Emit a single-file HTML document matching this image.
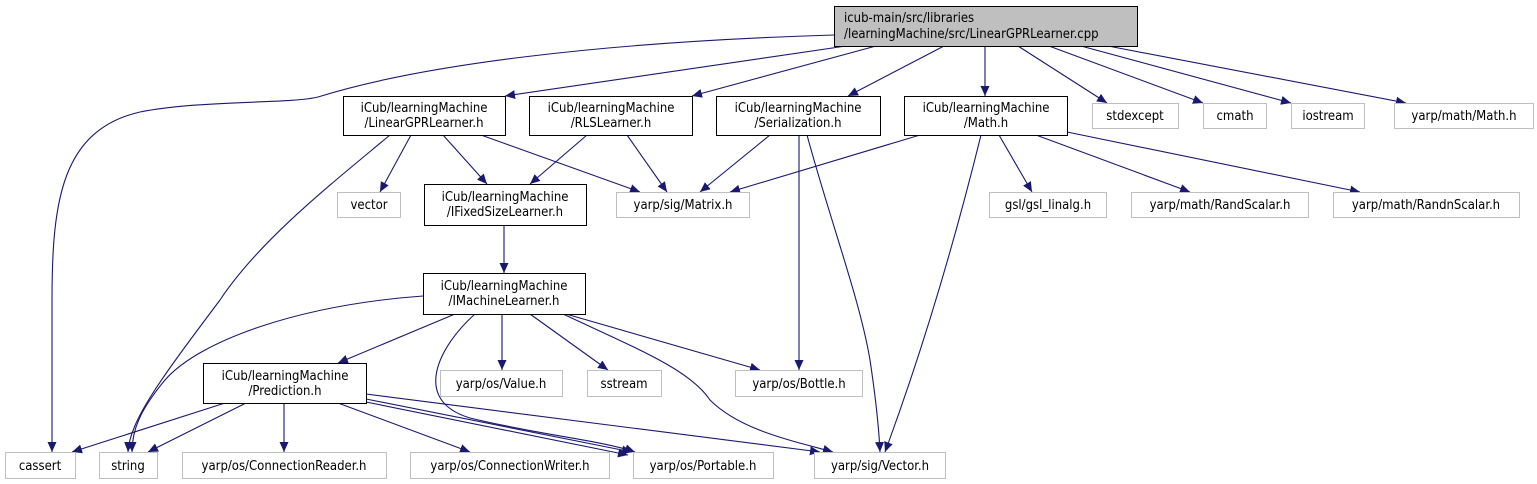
<!DOCTYPE html>
<html><head><meta charset="utf-8"><style>
html,body{margin:0;padding:0;background:#fff;width:1537px;height:484px;overflow:hidden}
svg text{font-family:"DejaVu Sans Condensed","DejaVu Sans","Liberation Sans",sans-serif;font-size:13px;fill:#000}
</style></head><body>
<svg width="1537" height="484" viewBox="0 0 1537 484" xmlns="http://www.w3.org/2000/svg">
<defs>
<marker id="a" markerUnits="userSpaceOnUse" markerWidth="11" markerHeight="10" refX="10" refY="4.5" orient="auto">
<path d="M0,0 L10,4.5 L0,9 Z" fill="#191970"/>
</marker>
</defs>
<g fill="none" stroke="#191970" stroke-width="1.1" marker-end="url(#a)">
<path d="M834,35 C600,42 420,65 318,97 C290,104 200,100 140,112 C62,130 52,200 52,300 L52,452"/>
<path d="M846,46 L505,96"/>
<path d="M876,46 L692,96"/>
<path d="M944,46 L848,96"/>
<path d="M985,46 L985,96"/>
<path d="M1018,46 L1107,103"/>
<path d="M1049,46 L1203,103"/>
<path d="M1081,46 L1291,103"/>
<path d="M1108,46 L1406,103"/>
<path d="M411,135 L380,192"/>
<path d="M443,135 L487,184"/>
<path d="M481,135 L640,192"/>
<path d="M390,135 C330,185 260,240 220,300 C160,380 130,420 128,452"/>
<path d="M587,135 L530,184"/>
<path d="M627,135 L667,192"/>
<path d="M770,135 L700,192"/>
<path d="M799,135 L799,370"/>
<path d="M807,135 C830,220 860,300 870,360 C876,400 879,430 880,452"/>
<path d="M920,135 L730,192"/>
<path d="M981,135 C960,220 930,330 885,452"/>
<path d="M999,135 L1032,192"/>
<path d="M1036,135 L1190,192"/>
<path d="M1067,132 L1360,192"/>
<path d="M504,225 L504,273"/>
<path d="M455,314 L338,363"/>
<path d="M423,296 C300,305 200,340 165,380 C140,410 132,430 132,452"/>
<path d="M502,314 L502,370"/>
<path d="M530,314 L608,370"/>
<path d="M566,314 L760,370"/>
<path d="M475,314 C440,345 410,400 470,418 C540,435 600,440 635,452"/>
<path d="M563,314 C640,350 690,370 710,400 C740,430 790,440 833,452"/>
<path d="M225,403 L72,452"/>
<path d="M246,403 L148,452"/>
<path d="M284,403 L284,452"/>
<path d="M338,403 L470,452"/>
<path d="M366,399 L632,452"/>
<path d="M366,402 L628,455"/>
<path d="M366,394 L820,452"/>
</g>
<g stroke-width="1">
<rect x="834.5" y="6.5" width="303" height="40" fill="#bfbfbf" stroke="#000"/>
<g fill="#fff" stroke="#000">
<rect x="343.5" y="96.5" width="162" height="39"/>
<rect x="529.5" y="96.5" width="163" height="39"/>
<rect x="716.5" y="96.5" width="164" height="39"/>
<rect x="904.5" y="96.5" width="163" height="39"/>
<rect x="424.5" y="184.5" width="162" height="41"/>
<rect x="423.5" y="273.5" width="162" height="41"/>
<rect x="203.5" y="363.5" width="163" height="40"/>
</g>
<g fill="#fff" stroke="#bfbfbf">
<rect x="1092.5" y="103.5" width="86" height="25"/>
<rect x="1203.5" y="103.5" width="63" height="25"/>
<rect x="1291.5" y="103.5" width="73" height="25"/>
<rect x="1394.5" y="103.5" width="139" height="25"/>
<rect x="337.5" y="192.5" width="63" height="25"/>
<rect x="616.5" y="192.5" width="133" height="25"/>
<rect x="989.5" y="192.5" width="117" height="25"/>
<rect x="1131.5" y="192.5" width="177" height="25"/>
<rect x="1333.5" y="192.5" width="186" height="25"/>
<rect x="440.5" y="370.5" width="122" height="26"/>
<rect x="587.5" y="370.5" width="74" height="26"/>
<rect x="735.5" y="370.5" width="127" height="26"/>
<rect x="5.5" y="452.5" width="70" height="26"/>
<rect x="99.5" y="452.5" width="58" height="26"/>
<rect x="182.5" y="452.5" width="204" height="26"/>
<rect x="410.5" y="452.5" width="199" height="26"/>
<rect x="633.5" y="452.5" width="140" height="26"/>
<rect x="814.5" y="452.5" width="131" height="26"/>
</g>
</g>
<text x="844" y="22">icub-main/src/libraries</text>
<text x="844" y="38">/learningMachine/src/LinearGPRLearner.cpp</text>
<g text-anchor="middle">
<text x="424" y="112">iCub/learningMachine</text><text x="424" y="127">/LinearGPRLearner.h</text>
<text x="611" y="112">iCub/learningMachine</text><text x="611" y="127">/RLSLearner.h</text>
<text x="798" y="112">iCub/learningMachine</text><text x="798" y="127">/Serialization.h</text>
<text x="986" y="112">iCub/learningMachine</text><text x="986" y="127">/Math.h</text>
<text x="505" y="201">iCub/learningMachine</text><text x="505" y="216">/IFixedSizeLearner.h</text>
<text x="504" y="290">iCub/learningMachine</text><text x="504" y="305">/IMachineLearner.h</text>
<text x="285" y="380">iCub/learningMachine</text><text x="285" y="395">/Prediction.h</text>
<text x="1135" y="120">stdexcept</text>
<text x="1235" y="120">cmath</text>
<text x="1328" y="120">iostream</text>
<text x="1464" y="120">yarp/math/Math.h</text>
<text x="369" y="209">vector</text>
<text x="683" y="209">yarp/sig/Matrix.h</text>
<text x="1048" y="209">gsl/gsl_linalg.h</text>
<text x="1220" y="209">yarp/math/RandScalar.h</text>
<text x="1426" y="209">yarp/math/RandnScalar.h</text>
<text x="501" y="388">yarp/os/Value.h</text>
<text x="624" y="388">sstream</text>
<text x="799" y="388">yarp/os/Bottle.h</text>
<text x="40" y="470">cassert</text>
<text x="128" y="470">string</text>
<text x="284" y="470">yarp/os/ConnectionReader.h</text>
<text x="510" y="470">yarp/os/ConnectionWriter.h</text>
<text x="703" y="470">yarp/os/Portable.h</text>
<text x="880" y="470">yarp/sig/Vector.h</text>
</g>
</svg>
</body></html>
